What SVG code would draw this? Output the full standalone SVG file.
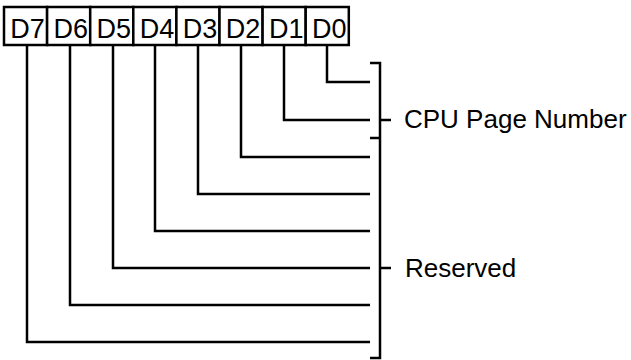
<svg xmlns="http://www.w3.org/2000/svg" width="631" height="360" viewBox="0 0 631 360">
<style>
.box{fill:#fff;stroke:#000;stroke-width:2.5}
.lbl{font-family:"Liberation Sans",Arial,sans-serif;font-size:27px;fill:#000;text-anchor:middle}
.txt{font-family:"Liberation Sans",Arial,sans-serif;font-size:26px;fill:#000}
.ln{fill:none;stroke:#000;stroke-width:2.5}
</style>
<rect width="631" height="360" fill="#fff"/>
<g id="connectors">
<path class="ln" d="M327 45V82H370"/>
<path class="ln" d="M284 45V120H370"/>
<path class="ln" d="M241 45V157H370"/>
<path class="ln" d="M198 45V194H370"/>
<path class="ln" d="M155 45V231H370"/>
<path class="ln" d="M113 45V268H370"/>
<path class="ln" d="M70 45V305H370"/>
<path class="ln" d="M27 45V342H370"/>
</g>
<g id="register">
<g id="D7"><rect class="box" x="4" y="7" width="43.1" height="38"/><text class="lbl" x="27.6" y="37.5">D7</text></g>
<g id="D6"><rect class="box" x="47.1" y="7" width="43.1" height="38"/><text class="lbl" x="70.7" y="37.5">D6</text></g>
<g id="D5"><rect class="box" x="90.2" y="7" width="43.1" height="38"/><text class="lbl" x="113.8" y="37.5">D5</text></g>
<g id="D4"><rect class="box" x="133.3" y="7" width="43.1" height="38"/><text class="lbl" x="156.9" y="37.5">D4</text></g>
<g id="D3"><rect class="box" x="176.4" y="7" width="43.1" height="38"/><text class="lbl" x="200" y="37.5">D3</text></g>
<g id="D2"><rect class="box" x="219.5" y="7" width="43.1" height="38"/><text class="lbl" x="243.1" y="37.5">D2</text></g>
<g id="D1"><rect class="box" x="262.6" y="7" width="43.1" height="38"/><text class="lbl" x="286.2" y="37.5">D1</text></g>
<g id="D0"><rect class="box" x="305.7" y="7" width="43.1" height="38"/><text class="lbl" x="329.3" y="37.5">D0</text></g>
</g>
<g id="bracket">
<path class="ln" d="M370 63H380V358H370M370 138H380M380 120H391M380 268H391"/>
</g>
<g id="cpu-page-number"><text class="txt" x="404" y="127.5">CPU Page Number</text></g>
<g id="reserved"><text class="txt" x="405" y="277">Reserved</text></g>
</svg>
